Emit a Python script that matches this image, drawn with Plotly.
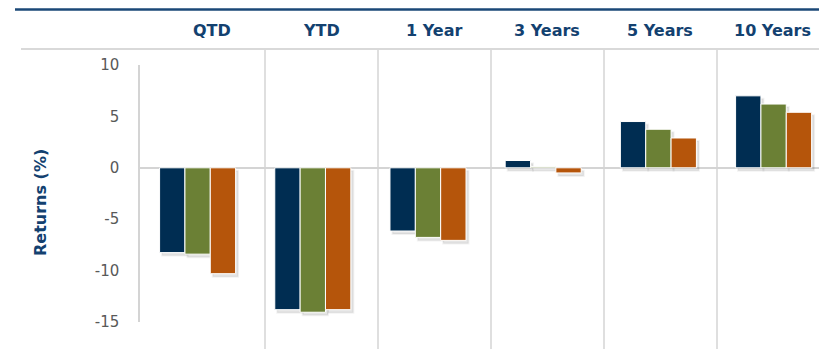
import plotly.graph_objects as go

categories = ["QTD", "YTD", "1 Year", "3 Years", "5 Years", "10 Years"]
series_a = [-8.25, -13.8, -6.15, 0.71, 4.5, 7.0]
series_b = [-8.4, -14.05, -6.77, 0.12, 3.75, 6.2]
series_c = [-10.3, -13.8, -7.06, -0.5, 2.9, 5.4]
tick_vals = [10, 5, 0, -5, -10, -15]
y_title = "Returns (%)"

colors = ["#002d52", "#6b8035", "#b5550b"]

W, H = 819, 364
L, R, T, B = 140, 0, 65, 42
pw, ph = W - L - R, H - T - B
cat_px = 115.2            # pixel width of one category
unit_px = ph / 25.0       # pixel per y unit

def px_x(x):
    return (x - L) / pw

def px_y(y):
    return (H - B - y) / ph

bar_w = 0.22
offsets = [-1.5 * bar_w, -0.5 * bar_w, 0.5 * bar_w]
sh_dx = 2.5 / cat_px
sh_dy = 3.0 / unit_px

fig = go.Figure()
# soft drop shadows
for vals, off in zip([series_a, series_b, series_c], offsets):
    fig.add_trace(go.Bar(
        x=categories, y=vals, base=[-sh_dy] * len(vals), offset=off + sh_dx, width=bar_w,
        marker=dict(color="rgba(0,0,0,0.10)", line=dict(color="rgba(0,0,0,0.05)", width=2)),
        showlegend=False, hoverinfo="skip"))
for vals, col, off in zip([series_a, series_b, series_c], colors, offsets):
    fig.add_trace(go.Bar(
        x=categories, y=vals, offset=off, width=bar_w,
        marker=dict(color=col, line=dict(color="white", width=1)),
        showlegend=False, hoverinfo="skip"))

# table column separators & header labels (table overlay, independent of bars)
sep_px = [265, 378, 491, 604, 717]
head_px = [212, 321, 434, 547, 660, 772]
shapes = []
for sx in sep_px:
    shapes.append(dict(type="line", xref="paper", yref="paper",
                       x0=px_x(sx), x1=px_x(sx), y0=px_y(49), y1=px_y(349),
                       line=dict(color="#d4d4d4", width=1.5), layer="below"))
shapes.append(dict(type="line", xref="paper", yref="paper",
                   x0=px_x(21), x1=1, y0=px_y(49), y1=px_y(49),
                   line=dict(color="#d9d9d9", width=2)))
shapes.append(dict(type="line", xref="paper", yref="paper",
                   x0=px_x(15), x1=1, y0=px_y(9.5), y1=px_y(9.5),
                   line=dict(color="#1b4877", width=2.5)))

head_font = dict(family="DejaVu Sans", size=16, color="#134170", weight="bold")
annotations = []
for cat, hx in zip(categories, head_px):
    annotations.append(dict(text=cat, xref="paper", yref="paper", x=px_x(hx), y=px_y(30),
                            xanchor="center", yanchor="middle", showarrow=False,
                            font=head_font))
annotations.append(dict(text=y_title, xref="paper", yref="paper", x=px_x(40), y=px_y(203),
                        textangle=-90, xanchor="center", yanchor="middle", showarrow=False,
                        font=head_font))

fig.update_layout(
    width=W, height=H, margin=dict(l=L, r=R, t=T, b=B),
    paper_bgcolor="white", plot_bgcolor="white",
    barmode="overlay",
    shapes=shapes, annotations=annotations,
    xaxis=dict(type="category", range=[-0.5, -0.5 + pw / cat_px], showticklabels=False,
               showgrid=False, zeroline=False, showline=False, ticks=""),
    yaxis=dict(range=[-15, 10], tickvals=tick_vals, ticktext=[str(v) for v in tick_vals],
               showgrid=False, zeroline=True, zerolinecolor="#d4d4d4", zerolinewidth=2,
               showline=True, linecolor="#d4d4d4", linewidth=1.5, ticks="",
               ticklabelstandoff=16,
               tickfont=dict(family="DejaVu Sans", size=15, color="#595959")),
)

fig.write_html("out.html", config={"displayModeBar": False},
               post_script="document.body.style.margin='0';document.body.style.overflow='hidden';")
